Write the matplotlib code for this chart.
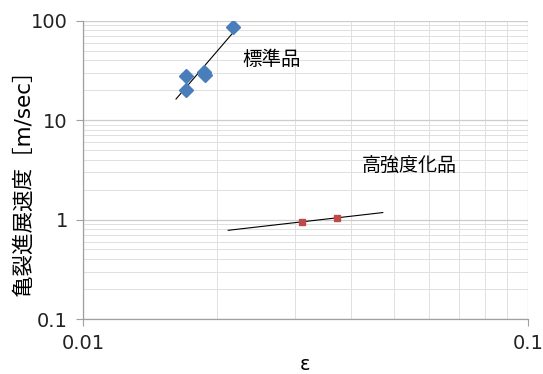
import numpy as np
import matplotlib.pyplot as plt
from matplotlib.ticker import LogLocator, FixedLocator, NullFormatter

plt.rcParams['font.family'] = ['DejaVu Sans', 'Noto Sans CJK JP']

# 標準品 (standard product)
std_x = [0.01704, 0.01704, 0.01870, 0.01880, 0.02173]
std_y = [27.8, 20.1, 30.5, 28.5, 86.5]
# 高強度化品 (high-strength product)
hs_x = [0.03105, 0.0372]
hs_y = [0.948, 1.04]

x_ticks = [0.01, 0.1]
x_ticklabels = ['0.01', '0.1']
y_ticks = [0.1, 1, 10, 100]
y_ticklabels = ['0.1', '1', '10', '100']

fig = plt.figure(figsize=(5.43, 3.74), dpi=100)
ax = fig.add_axes([0.153, 0.147, 0.819, 0.798])
ax.set_xscale('log')
ax.set_yscale('log')
ax.set_xlim(0.01, 0.1)
ax.set_ylim(0.1, 100)

# power trend lines, fitted in log-log space
def trend(xs, ys, x0, x1):
    k, b = np.polyfit(np.log10(xs), np.log10(ys), 1)
    xx = np.array([x0, x1])
    return xx, 10 ** (k * np.log10(xx) + b)

tx, ty = trend(std_x, std_y, 0.01618, 0.0223)
ax.plot(tx, ty, color='black', lw=0.8, zorder=3)
tx, ty = trend(hs_x, hs_y, 0.0212, 0.0472)
ax.plot(tx, ty, color='black', lw=0.8, zorder=3)

ax.plot(std_x, std_y, 'D', color='#4A7EBB', ms=7.5, mec='#4A7EBB', ls='none', zorder=4)
ax.plot(hs_x, hs_y, 's', color='#BE4B48', ms=5, mec='#BE4B48', ls='none', zorder=4)

ax.xaxis.set_major_locator(FixedLocator(x_ticks))
ax.set_xticklabels(x_ticklabels)
ax.yaxis.set_major_locator(FixedLocator(y_ticks))
ax.set_yticklabels(y_ticklabels)
ax.xaxis.set_minor_locator(LogLocator(base=10, subs=np.arange(2, 10)))
ax.yaxis.set_minor_locator(LogLocator(base=10, subs=np.arange(2, 10)))
ax.xaxis.set_minor_formatter(NullFormatter())
ax.yaxis.set_minor_formatter(NullFormatter())

ax.grid(True, which='major', color='#CCCCCC', lw=0.9)
ax.grid(True, which='minor', color='#E0E0E0', lw=0.7)
ax.set_axisbelow(True)

for s in ['top', 'right']:
    ax.spines[s].set_visible(False)
for s in ['left', 'bottom']:
    ax.spines[s].set_color('#A0A0A0')
    ax.spines[s].set_linewidth(0.9)
ax.tick_params(which='major', length=5, color='#A0A0A0', labelsize=14,
               labelcolor='#222222', pad=6)
ax.tick_params(which='minor', length=0)

cjk = ['Noto Sans CJK JP', 'DejaVu Sans']
ax.text(0.0266, 40.3, '標準品', fontsize=14, ha='center', va='center', family=cjk)
ax.text(0.054, 3.47, '高強度化品', fontsize=13.7, ha='center', va='center', family=cjk)

ax.set_ylabel('亀裂進展速度［m/sec］', fontsize=15.5,
              family=['DejaVu Sans', 'Noto Sans CJK JP'])
ax.yaxis.set_label_coords(-0.112, 0.475)
ax.set_xlabel('ε', fontsize=14)
ax.xaxis.set_label_coords(0.5, -0.12)

fig.savefig('out.png', dpi=100)
